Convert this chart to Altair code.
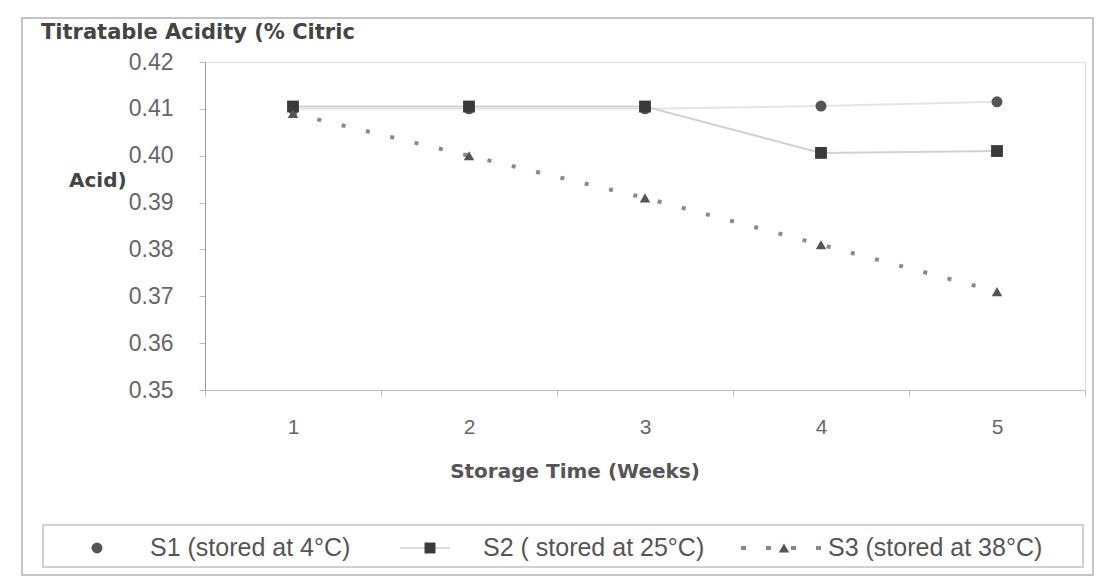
import altair as alt
import pandas as pd

weeks = [1, 2, 3, 4, 5]
s1 = [0.410, 0.410, 0.410, 0.4106, 0.4115]
s2 = [0.4105, 0.4105, 0.4105, 0.4006, 0.4010]
s3 = [0.409, 0.400, 0.391, 0.381, 0.371]
series_names = ["S1 (stored at 4°C)", "S2 ( stored at 25°C)", "S3 (stored at 38°C)"]
y_ticks = [0.35, 0.36, 0.37, 0.38, 0.39, 0.40, 0.41, 0.42]

rows = []
for name, vals in zip(series_names, [s1, s2, s3]):
    for w, v in zip(weeks, vals):
        rows.append({"week": str(w), "value": v, "series": name})
df = pd.DataFrame(rows)
one = pd.DataFrame({"k": [0]})

W, H = 880, 328
FONT = "Liberation Sans"
BOLD = "DejaVu Sans"
MARK = "#3a3a3a"

xenc = alt.X("week:O", scale=alt.Scale(type="band", paddingInner=0, paddingOuter=0),
             axis=alt.Axis(title=None, labelAngle=0, labelFontSize=21,
                           labelColor="#666", labelFont=FONT, labelPadding=20,
                           domainColor="#bbb", tickColor="#bbb", tickBand="extent",
                           tickSize=6, grid=False))
yenc = alt.Y("value:Q", scale=alt.Scale(domain=[0.35, 0.42], nice=False, zero=False),
             axis=alt.Axis(title=None, values=y_ticks, format=".2f", labelFontSize=23,
                           labelColor="#666", labelFont=FONT, labelPadding=26,
                           domainColor="#999", tickColor="#bbb", tickSize=6, grid=False))

base = alt.Chart(df)

line_s1 = base.transform_filter(alt.datum.series == series_names[0]).mark_line(
    color="#e4e4e4", strokeWidth=2).encode(x=xenc, y=yenc)
line_s2 = base.transform_filter(alt.datum.series == series_names[1]).mark_line(
    color="#d2d2d2", strokeWidth=2).encode(x=xenc, y=yenc)
line_s3 = base.transform_filter(alt.datum.series == series_names[2]).mark_line(
    color="#8a8a8a", strokeWidth=4, strokeDash=[4, 21]).encode(x=xenc, y=yenc)

pts_s1 = base.transform_filter(alt.datum.series == series_names[0]).mark_point(
    shape="circle", filled=True, size=120, color="#555", opacity=1).encode(x=xenc, y=yenc)
pts_s2 = base.transform_filter(alt.datum.series == series_names[1]).mark_point(
    shape="square", filled=True, size=140, color=MARK, opacity=1).encode(x=xenc, y=yenc)
pts_s3 = base.transform_filter(alt.datum.series == series_names[2]).mark_point(
    shape="triangle-up", filled=True, size=110, color="#555", opacity=1).encode(x=xenc, y=yenc)

# frames
outer = alt.Chart(one).mark_rect(fill=None, stroke="#c4c4c4", strokeWidth=2).encode(
    x=alt.value(-183), x2=alt.value(W + 8), y=alt.value(-44), y2=alt.value(H + 185))
legend_box = alt.Chart(one).mark_rect(fill=None, stroke="#d0d0d0", strokeWidth=2).encode(
    x=alt.value(-162), x2=alt.value(W - 2), y=alt.value(H + 135), y2=alt.value(H + 177))

title1 = alt.Chart(one).mark_text(text="Titratable Acidity (% Citric", align="left",
                                  baseline="middle", font=BOLD, fontSize=21,
                                  fontWeight="bold", color="#444").encode(
    x=alt.value(-164), y=alt.value(-29))
title2 = alt.Chart(one).mark_text(text="Acid)", align="left", baseline="middle", font=BOLD,
                                  fontSize=20, fontWeight="bold", color="#444").encode(
    x=alt.value(-136), y=alt.value(119))
xtitle = alt.Chart(one).mark_text(text="Storage Time (Weeks)", align="center",
                                  baseline="middle", font=BOLD, fontSize=20,
                                  fontWeight="bold", color="#555").encode(
    x=alt.value(370), y=alt.value(410))

LY = H + 158
LFS = 25
leg = [
    alt.Chart(one).mark_point(shape="circle", filled=True, size=120, color="#555", opacity=1).encode(
        x=alt.value(-108), y=alt.value(LY)),
    alt.Chart(one).mark_text(text=series_names[0], align="left", baseline="middle", font=FONT,
                             fontSize=LFS, color="#555").encode(x=alt.value(-55), y=alt.value(LY)),
    alt.Chart(one).mark_rule(color="#ddd", strokeWidth=2).encode(
        x=alt.value(195), x2=alt.value(245), y=alt.value(LY)),
    alt.Chart(one).mark_point(shape="square", filled=True, size=120, color=MARK, opacity=1).encode(
        x=alt.value(225), y=alt.value(LY)),
    alt.Chart(one).mark_text(text=series_names[1], align="left", baseline="middle", font=FONT,
                             fontSize=LFS, color="#555").encode(x=alt.value(278), y=alt.value(LY)),
    alt.Chart(one).mark_rule(color="#888", strokeWidth=4, strokeDash=[5, 20]).encode(
        x=alt.value(536), x2=alt.value(618), y=alt.value(LY)),
    alt.Chart(one).mark_point(shape="triangle-up", filled=True, size=110, color="#555", opacity=1).encode(
        x=alt.value(579), y=alt.value(LY)),
    alt.Chart(one).mark_text(text=series_names[2], align="left", baseline="middle", font=FONT,
                             fontSize=LFS, color="#555").encode(x=alt.value(623), y=alt.value(LY)),
]

chart = alt.layer(outer, legend_box, line_s1, line_s2, line_s3, pts_s1, pts_s2, pts_s3,
                  title1, title2, xtitle, *leg).properties(
    width=W, height=H,
    autosize=alt.AutoSizeParams(type="none"),
    padding={"left": 205, "top": 62, "right": 21, "bottom": 187},
).configure_view(stroke="#e6e6e6", strokeWidth=2).configure(background="white")

chart.save("out.html", embed_options={"renderer": "svg", "actions": False})
